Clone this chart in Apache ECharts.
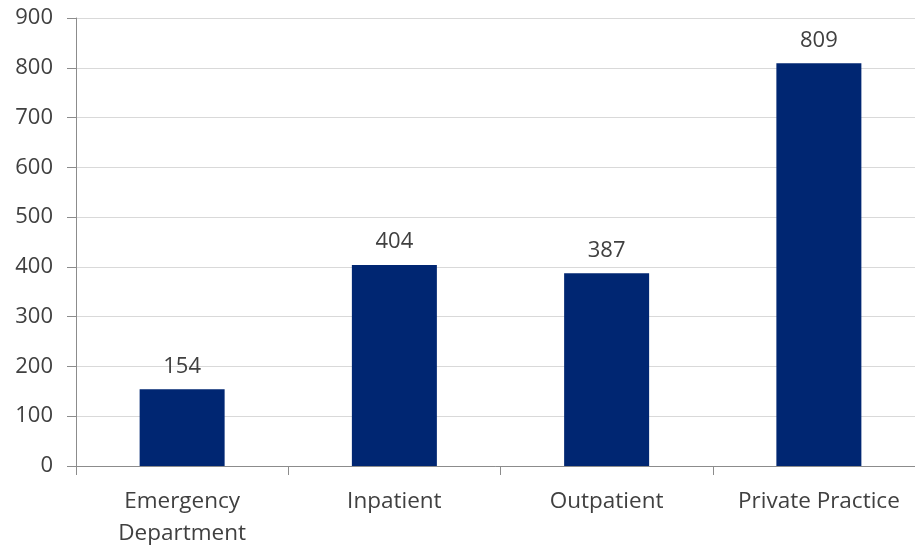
<!DOCTYPE html>
<html>
<head>
<meta charset="utf-8">
<script src="https://cdn.jsdelivr.net/npm/echarts@6/dist/echarts.min.js"></script>
<style>html,body{margin:0;padding:0;background:#fff}#c{width:915px;height:547px}</style>
</head>
<body>
<div id="c"></div>
<script>
const categories = ['Emergency\nDepartment', 'Inpatient', 'Outpatient', 'Private Practice'];
const values = [154, 404, 387, 809];
const yTicks = {min: 0, max: 900, interval: 100};

const chart = echarts.init(document.getElementById('c'), null, {renderer: 'canvas'});
const font = '"Open Sans", "Liberation Sans", sans-serif';
chart.setOption({
  animation: false,
  grid: {left: 76, top: 18, bottom: 81, width: 849, containLabel: false, outerBoundsMode: 'none'},
  xAxis: {
    type: 'category',
    data: categories,
    axisLine: {lineStyle: {color: '#8c8c8c', width: 1}},
    axisTick: {show: true, length: 9, lineStyle: {color: '#8c8c8c'}},
    axisLabel: {color: '#404040', fontSize: 22.5, fontFamily: font, margin: 20, lineHeight: 32}
  },
  yAxis: {
    type: 'value',
    min: yTicks.min, max: yTicks.max, interval: yTicks.interval,
    axisLine: {show: true, lineStyle: {color: '#8c8c8c', width: 1}},
    axisTick: {show: true, length: 9, lineStyle: {color: '#8c8c8c'}},
    splitLine: {lineStyle: {color: '#d9d9d9', width: 1}},
    axisLabel: {color: '#404040', fontSize: 22, fontFamily: font, margin: 23}
  },
  series: [{
    type: 'bar',
    data: values,
    barWidth: 85,
    itemStyle: {color: '#002672'},
    label: {show: true, position: 'top', distance: 12, color: '#404040', fontSize: 22, fontFamily: font}
  }]
});
</script>
</body>
</html>
